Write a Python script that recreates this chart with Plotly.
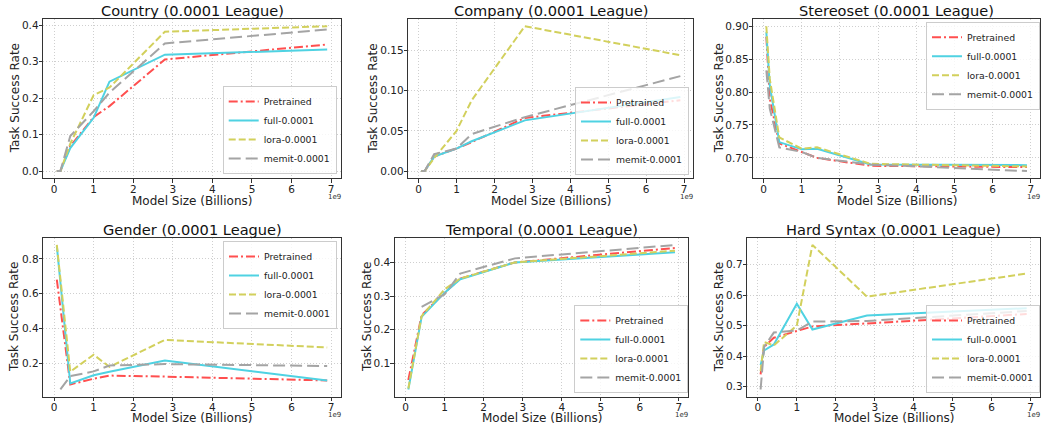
import plotly.graph_objects as go

W, H = 1043, 430

# ---------------- data (model sizes in billions) ----------------
sizes7 = [0.07, 0.16, 0.41, 1.0, 1.4, 2.8, 6.9]
sizes6 = [0.07, 0.41, 1.0, 1.4, 2.8, 6.9]
sizes6_memit_gender = [0.16, 0.41, 1.0, 1.4, 2.8, 6.9]
sizes5 = [0.41, 1.0, 1.4, 2.8, 6.9]

country_pre = [0.0, 0.0, 0.068, 0.148, 0.178, 0.306, 0.347]
country_full = [0.0, 0.0, 0.063, 0.146, 0.245, 0.319, 0.333]
country_lora = [0.0, 0.0, 0.075, 0.208, 0.229, 0.382, 0.397]
country_memit = [0.0, 0.0, 0.096, 0.164, 0.215, 0.350, 0.388]

company_pre = [0.0, 0.0, 0.018, 0.028, 0.036, 0.066, 0.088]
company_full = [0.0, 0.0, 0.018, 0.028, 0.037, 0.063, 0.092]
company_lora = [0.0, 0.0, 0.016, 0.050, 0.088, 0.180, 0.144]
company_memit = [0.0, 0.0, 0.021, 0.028, 0.046, 0.067, 0.118]

stereo_pre = [0.884, 0.790, 0.722, 0.709, 0.700, 0.688, 0.686]
stereo_full = [0.891, 0.810, 0.724, 0.713, 0.714, 0.690, 0.689]
stereo_lora = [0.900, 0.820, 0.731, 0.714, 0.716, 0.691, 0.687]
stereo_memit = [0.833, 0.775, 0.716, 0.709, 0.700, 0.690, 0.680]

gender_pre = [0.68, 0.077, 0.110, 0.128, 0.122, 0.100]
gender_full = [0.875, 0.083, 0.130, 0.150, 0.215, 0.100]
gender_lora = [0.880, 0.150, 0.248, 0.178, 0.333, 0.290]
gender_memit = [0.048, 0.125, 0.152, 0.186, 0.194, 0.183]

temporal_pre = [0.050, 0.243, 0.310, 0.352, 0.400, 0.443]
temporal_full = [0.022, 0.238, 0.310, 0.350, 0.400, 0.430]
temporal_lora = [0.025, 0.240, 0.320, 0.352, 0.400, 0.435]
temporal_memit = [0.268, 0.305, 0.367, 0.412, 0.452]

syntax_pre = [0.340, 0.430, 0.460, 0.483, 0.497, 0.507, 0.538]
syntax_full = [0.370, 0.418, 0.438, 0.572, 0.487, 0.533, 0.557]
syntax_lora = [0.350, 0.446, 0.435, 0.500, 0.765, 0.595, 0.671]
syntax_memit = [0.290, 0.430, 0.477, 0.484, 0.513, 0.515, 0.548]

series_names = ["Pretrained", "full-0.0001", "lora-0.0001", "memit-0.0001"]
x_ticks = [0, 1, 2, 3, 4, 5, 6, 7]

panels = [
    dict(title="Country (0.0001 League)",
         xs=[sizes7, sizes7, sizes7, sizes7],
         ys=[country_pre, country_full, country_lora, country_memit],
         yticks=[0.0, 0.1, 0.2, 0.3, 0.4], fmt="%.1f"),
    dict(title="Company (0.0001 League)",
         xs=[sizes7, sizes7, sizes7, sizes7],
         ys=[company_pre, company_full, company_lora, company_memit],
         yticks=[0.00, 0.05, 0.10, 0.15], fmt="%.2f"),
    dict(title="Stereoset (0.0001 League)",
         xs=[sizes7, sizes7, sizes7, sizes7],
         ys=[stereo_pre, stereo_full, stereo_lora, stereo_memit],
         yticks=[0.70, 0.75, 0.80, 0.85, 0.90], fmt="%.2f"),
    dict(title="Gender (0.0001 League)",
         xs=[sizes6, sizes6, sizes6, sizes6_memit_gender],
         ys=[gender_pre, gender_full, gender_lora, gender_memit],
         yticks=[0.2, 0.4, 0.6, 0.8], fmt="%.1f"),
    dict(title="Temporal (0.0001 League)",
         xs=[sizes6, sizes6, sizes6, sizes5],
         ys=[temporal_pre, temporal_full, temporal_lora, temporal_memit],
         yticks=[0.1, 0.2, 0.3, 0.4], fmt="%.1f"),
    dict(title="Hard Syntax (0.0001 League)",
         xs=[sizes7, sizes7, sizes7, sizes7],
         ys=[syntax_pre, syntax_full, syntax_lora, syntax_memit],
         yticks=[0.3, 0.4, 0.5, 0.6, 0.7], fmt="%.1f"),
]

# ---------------- styling / layout ----------------
styles = [
    dict(color="#ff4f4f", dash="9px,3px,2px,3px", width=2),
    dict(color="#4fd2e2", dash="solid", width=2),
    dict(color="#d2d05c", dash="7px,3px", width=2),
    dict(color="#a4a4a4", dash="12px,5px", width=2),
]

# axes boxes in pixels: left, right, top, bottom
boxes = [
    (43.3, 340.7, 19, 178.3),
    (408.3, 693.3, 19, 178.3),
    (753.3, 1040, 19, 178.3),
    (43.3, 340.7, 237.7, 396.7),
    (395, 688.3, 237.7, 396.7),
    (747.3, 1040, 237.7, 396.7),
]
ylabel_x = [14.7, 373, 718.7, 14.7, 366.7, 719]
# legend anchor (right, top/bottom px, anchor)
legends = [
    (336.7, 174, "bottom"),
    (689, 175, "bottom"),
    (1040, 21.7, "top"),
    (337, 241, "top"),
    (688.3, 393, "bottom"),
    (1040, 393, "bottom"),
]

FONT = "DejaVu Sans"
AX = "#333333"
fig = go.Figure()
annotations = []
layout = dict(width=W, height=H, margin=dict(l=0, r=0, t=0, b=0),
              plot_bgcolor="white", paper_bgcolor="white",
              font=dict(family=FONT, color="#222222"))

all_x = [v for p in panels for xs in p["xs"] for v in xs]
xmin, xmax = min(all_x), max(all_x)
xpad = 0.05 * (xmax - xmin)

for i, (p, box) in enumerate(zip(panels, boxes)):
    n = "" if i == 0 else str(i + 1)
    lgname = "legend" if i == 0 else f"legend{i + 1}"
    for name, xs, ys, st in zip(series_names, p["xs"], p["ys"], styles):
        fig.add_trace(go.Scatter(
            x=xs, y=ys, mode="lines", name=name,
            line=dict(color=st["color"], dash=st["dash"], width=st["width"]),
            xaxis="x" + n, yaxis="y" + n, legend=lgname, showlegend=True))
    l, r, t, b = box
    vals = [v for ys in p["ys"] for v in ys]
    ymin, ymax = min(vals), max(vals)
    ypad = 0.05 * (ymax - ymin)
    axcommon = dict(showline=True, mirror=True, linecolor=AX, linewidth=1.2,
                    ticks="outside", ticklen=3.5, tickcolor=AX, tickwidth=1,
                    showgrid=True, gridcolor="#cfcfcf", griddash="1px,2px", gridwidth=1,
                    zeroline=False, tickfont=dict(size=10.5, family=FONT, color="#222222"))
    layout["xaxis" + n] = dict(domain=[l / W, r / W], anchor="y" + n,
                               range=[xmin - xpad, xmax + xpad],
                               tickvals=x_ticks, ticktext=[str(v) for v in x_ticks],
                               ticklabelstandoff=-3, **axcommon)
    layout["yaxis" + n] = dict(domain=[1 - b / H, 1 - t / H], anchor="x" + n,
                               range=[ymin - ypad, ymax + ypad],
                               tickvals=p["yticks"],
                               ticktext=[p["fmt"] % v for v in p["yticks"]],
                               ticklabelstandoff=-2, **axcommon)
    cx = (l + r) / 2 / W
    title_y = 10.5 if t < 100 else 229.5
    xlab_y = 200.5 if t < 100 else 418
    annotations.append(dict(text=p["title"], x=cx, y=1 - title_y / H, xref="paper", yref="paper",
                            showarrow=False, xanchor="center", yanchor="middle",
                            font=dict(size=14.6, family=FONT, color="#111111")))
    annotations.append(dict(text="Model Size (Billions)", x=cx, y=1 - xlab_y / H,
                            xref="paper", yref="paper", showarrow=False,
                            xanchor="center", yanchor="middle",
                            font=dict(size=12, family=FONT, color="#222222")))
    annotations.append(dict(text="Task Success Rate", x=ylabel_x[i] / W, y=1 - (t + b) / 2 / H,
                            xref="paper", yref="paper", showarrow=False, textangle=-90,
                            xanchor="center", yanchor="middle",
                            font=dict(size=12, family=FONT, color="#222222")))
    annotations.append(dict(text="1e9", x=min(r + 2, W - 1) / W, y=1 - (b + 18.5) / H,
                            xref="paper", yref="paper", showarrow=False,
                            xanchor="right", yanchor="middle",
                            font=dict(size=7, family=FONT, color="#333333")))
    lx, ly, anc = legends[i]
    layout[lgname] = dict(x=lx / W, y=1 - ly / H, xanchor="right", yanchor=anc,
                          xref="paper", yref="paper",
                          bgcolor="rgba(255,255,255,0.8)", bordercolor="#cccccc",
                          borderwidth=1, font=dict(size=9.3, family=FONT, color="#222222"),
                          tracegroupgap=0, itemwidth=30)

layout["annotations"] = annotations
fig.update_layout(**layout)
fig.write_html("out.html")
